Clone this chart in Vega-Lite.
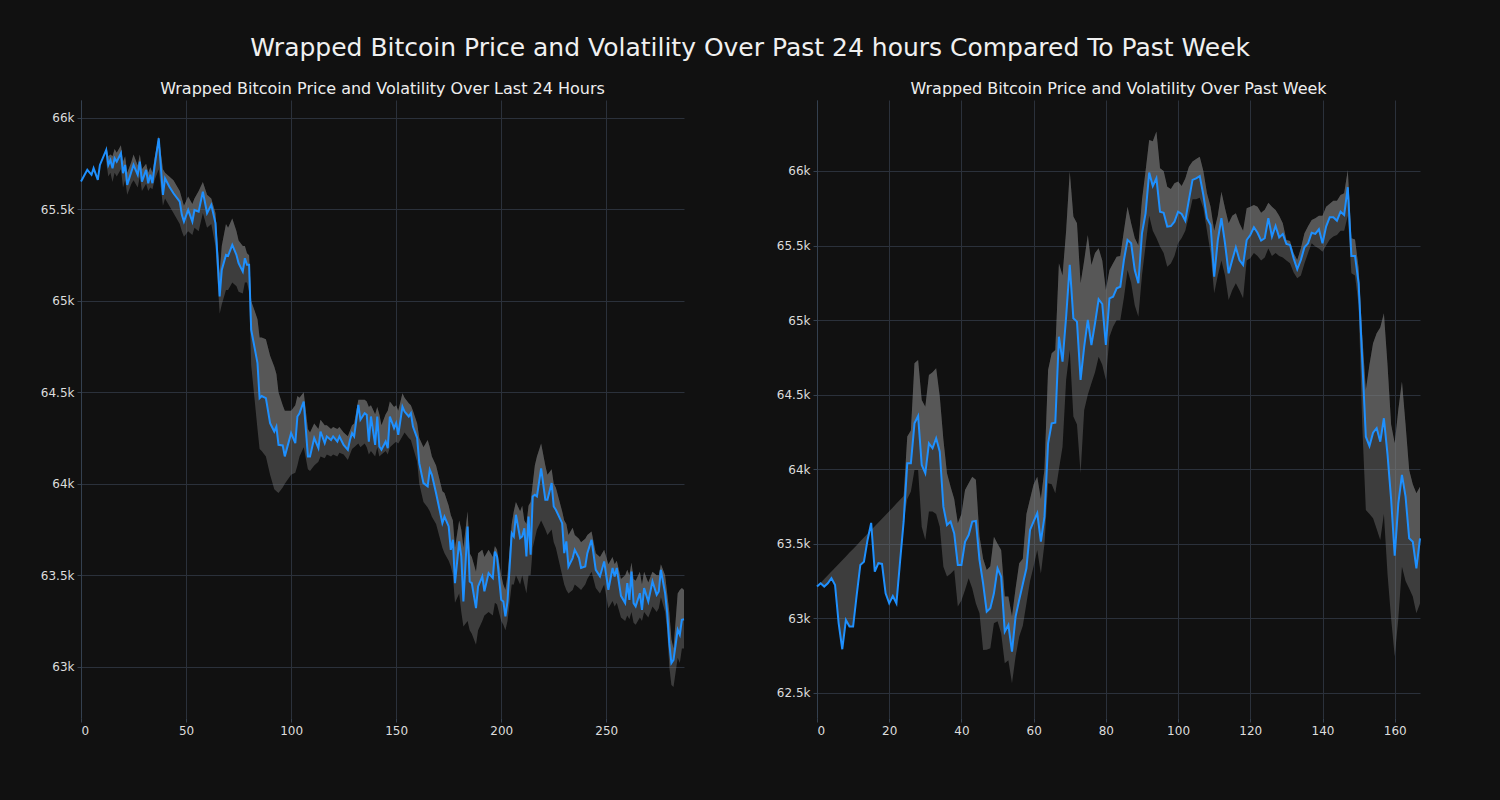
{
"$schema": "https://vega.github.io/schema/vega-lite/v6.json",
"background": "#111111",
"padding": {"left": 40, "top": 36, "right": 80, "bottom": 64},
"title": {"text": "Wrapped Bitcoin Price and Volatility Over Past 24 hours Compared To Past Week", "fontSize": 25, "color": "#f0f0f0", "anchor": "middle", "offset": 20, "dx": 18},
"config": {
 "font": "DejaVu Sans",
 "view": {"stroke": null},
 "title": {"color": "#eeeeee", "fontSize": 16, "fontWeight": "normal", "font": "DejaVu Sans", "offset": 3},
 "axis": {"gridColor": "#2b313b", "gridWidth": 1, "domainColor": "#34404f", "tickColor": "#34404f", "labelColor": "#dddddd", "labelFontSize": 12, "labelFont": "DejaVu Sans", "tickSize": 4, "labelPadding": 3, "title": null},
 "axisX": {"domain": false}
},
"spacing": 88,
"datasets": {
"d24": [
{"x":0,"p":65652},{"x":3,"p":65716},{"x":5,"p":65689},{"x":6,"p":65725},{"x":8,"p":65661},{"x":9,"p":65743},
{"x":12,"p":65825,"lo":65760,"hi":65850},{"x":13,"p":65743,"lo":65680,"hi":65790},{"x":14,"p":65770,"lo":65700,"hi":65800},{"x":15,"p":65725,"lo":65650,"hi":65790},{"x":16,"p":65780,"lo":65700,"hi":65830},{"x":17,"p":65761,"lo":65680,"hi":65810},{"x":19,"p":65807,"lo":65720,"hi":65850},{"x":20,"p":65698,"lo":65620,"hi":65760},{"x":21,"p":65743,"lo":65660,"hi":65790},{"x":22,"p":65634,"lo":65580,"hi":65700},{"x":24,"p":65707,"lo":65640,"hi":65760},{"x":25,"p":65743,"lo":65660,"hi":65800},{"x":27,"p":65689,"lo":65620,"hi":65740},{"x":28,"p":65761,"lo":65680,"hi":65800},{"x":29,"p":65652,"lo":65600,"hi":65720},{"x":31,"p":65716,"lo":65640,"hi":65750},{"x":32,"p":65643,"lo":65600,"hi":65700},{"x":33,"p":65689,"lo":65620,"hi":65730},{"x":34,"p":65643,"lo":65610,"hi":65700},{"x":35,"p":65734,"lo":65660,"hi":65780},{"x":37,"p":65889,"lo":65720,"hi":65900},{"x":39,"p":65579,"lo":65520,"hi":65720},{"x":40,"p":65670,"lo":65560,"hi":65700},{"x":42,"p":65625,"lo":65520,"hi":65680},{"x":44,"p":65588,"lo":65480,"hi":65660},{"x":47,"p":65543,"lo":65420,"hi":65600},{"x":48,"p":65470,"lo":65380,"hi":65560},{"x":49,"p":65433,"lo":65350,"hi":65520},{"x":51,"p":65497,"lo":65380,"hi":65570},{"x":53,"p":65433,"lo":65360,"hi":65530},{"x":54,"p":65497,"lo":65400,"hi":65560},{"x":56,"p":65488,"lo":65380,"hi":65600},{"x":58,"p":65597,"lo":65480,"hi":65650},{"x":60,"p":65479,"lo":65400,"hi":65580},{"x":62,"p":65525,"lo":65420,"hi":65560},{"x":64,"p":65425,"lo":65300,"hi":65480},{"x":66,"p":65024,"lo":64930,"hi":65150},{"x":67,"p":65169,"lo":64980,"hi":65300},{"x":69,"p":65251,"lo":65060,"hi":65420},{"x":70,"p":65246,"lo":65060,"hi":65400},{"x":72,"p":65306,"lo":65100,"hi":65450},{"x":74,"p":65251,"lo":65080,"hi":65380},{"x":75,"p":65206,"lo":65050,"hi":65330},{"x":77,"p":65160,"lo":65040,"hi":65300},{"x":78,"p":65233,"lo":65100,"hi":65300},{"x":79,"p":65197,"lo":65100,"hi":65260},{"x":80,"p":65197,"lo":65050,"hi":65250},{"x":81,"p":64842,"lo":64650,"hi":65000},{"x":84,"p":64660,"lo":64300,"hi":64900},{"x":85,"p":64468,"lo":64190,"hi":64800},{"x":86,"p":64480,"lo":64180,"hi":64800},{"x":88,"p":64468,"lo":64150,"hi":64790},{"x":90,"p":64332,"lo":64050,"hi":64700},{"x":92,"p":64286,"lo":63970,"hi":64640},{"x":93,"p":64313,"lo":63960,"hi":64600},{"x":94,"p":64213,"lo":63950,"hi":64500},{"x":96,"p":64210,"lo":63980,"hi":64430},{"x":97,"p":64150,"lo":64000,"hi":64400},{"x":100,"p":64277,"lo":64050,"hi":64400},{"x":102,"p":64222,"lo":64060,"hi":64430},{"x":103,"p":64368,"lo":64100,"hi":64480},{"x":104,"p":64386,"lo":64150,"hi":64470},{"x":106,"p":64450,"lo":64200,"hi":64500},{"x":108,"p":64150,"lo":64080,"hi":64300},{"x":109,"p":64150,"lo":64070,"hi":64280},{"x":111,"p":64250,"lo":64100,"hi":64330},{"x":113,"p":64195,"lo":64120,"hi":64300},{"x":114,"p":64286,"lo":64150,"hi":64350},{"x":116,"p":64222,"lo":64140,"hi":64320},{"x":117,"p":64259,"lo":64160,"hi":64320},{"x":119,"p":64240,"lo":64150,"hi":64300},{"x":120,"p":64259,"lo":64160,"hi":64310},{"x":122,"p":64231,"lo":64150,"hi":64300},{"x":123,"p":64259,"lo":64170,"hi":64310},{"x":125,"p":64213,"lo":64160,"hi":64280},{"x":127,"p":64186,"lo":64130,"hi":64260},{"x":128,"p":64240,"lo":64160,"hi":64290},{"x":129,"p":64277,"lo":64190,"hi":64320},{"x":130,"p":64259,"lo":64200,"hi":64330},{"x":132,"p":64432,"lo":64220,"hi":64460},{"x":133,"p":64350,"lo":64200,"hi":64460},{"x":135,"p":64386,"lo":64220,"hi":64460},{"x":136,"p":64377,"lo":64200,"hi":64450},{"x":137,"p":64231,"lo":64160,"hi":64420},{"x":138,"p":64368,"lo":64180,"hi":64430},{"x":140,"p":64213,"lo":64150,"hi":64380},{"x":141,"p":64368,"lo":64200,"hi":64420},{"x":142,"p":64204,"lo":64150,"hi":64380},{"x":143,"p":64186,"lo":64160,"hi":64320},{"x":145,"p":64231,"lo":64180,"hi":64380},{"x":146,"p":64195,"lo":64160,"hi":64400},{"x":147,"p":64368,"lo":64200,"hi":64450},{"x":149,"p":64304,"lo":64220,"hi":64420},{"x":150,"p":64332,"lo":64230,"hi":64430},{"x":151,"p":64268,"lo":64220,"hi":64400},{"x":153,"p":64422,"lo":64260,"hi":64495},{"x":154,"p":64395,"lo":64280,"hi":64470},{"x":156,"p":64368,"lo":64250,"hi":64440},{"x":157,"p":64386,"lo":64240,"hi":64430},{"x":158,"p":64313,"lo":64200,"hi":64400},{"x":160,"p":64250,"lo":64120,"hi":64330},{"x":161,"p":64113,"lo":64000,"hi":64250},{"x":163,"p":64004,"lo":63900,"hi":64200},{"x":165,"p":63986,"lo":63870,"hi":64240},{"x":166,"p":64077,"lo":63850,"hi":64200},{"x":167,"p":64049,"lo":63820,"hi":64150},{"x":169,"p":63949,"lo":63780,"hi":64100},{"x":172,"p":63785,"lo":63650,"hi":63960},{"x":173,"p":63821,"lo":63620,"hi":63950},{"x":175,"p":63767,"lo":63580,"hi":63880},{"x":176,"p":63639,"lo":63550,"hi":63830},{"x":177,"p":63694,"lo":63500,"hi":63800},{"x":178,"p":63457,"lo":63350,"hi":63650},{"x":180,"p":63685,"lo":63400,"hi":63800},{"x":181,"p":63603,"lo":63300,"hi":63750},{"x":182,"p":63357,"lo":63220,"hi":63650},{"x":184,"p":63767,"lo":63250,"hi":63850},{"x":185,"p":63466,"lo":63200,"hi":63620},{"x":186,"p":63457,"lo":63180,"hi":63600},{"x":188,"p":63321,"lo":63120,"hi":63520},{"x":189,"p":63439,"lo":63200,"hi":63620},{"x":191,"p":63494,"lo":63250,"hi":63640},{"x":192,"p":63412,"lo":63280,"hi":63600},{"x":194,"p":63512,"lo":63300,"hi":63640},{"x":196,"p":63485,"lo":63280,"hi":63600},{"x":197,"p":63630,"lo":63350,"hi":63660},{"x":198,"p":63603,"lo":63340,"hi":63640},{"x":200,"p":63366,"lo":63250,"hi":63500},{"x":201,"p":63357,"lo":63230,"hi":63450},{"x":202,"p":63275,"lo":63200,"hi":63420},{"x":203,"p":63357,"lo":63250,"hi":63500},{"x":205,"p":63730,"lo":63450,"hi":63780},{"x":206,"p":63712,"lo":63450,"hi":63850},{"x":207,"p":63831,"lo":63500,"hi":63900},{"x":209,"p":63703,"lo":63450,"hi":63850},{"x":210,"p":63712,"lo":63500,"hi":63880},{"x":211,"p":63757,"lo":63450,"hi":63800},{"x":212,"p":63603,"lo":63400,"hi":63780},{"x":213,"p":63821,"lo":63500,"hi":63880},{"x":214,"p":63612,"lo":63500,"hi":63900},{"x":215,"p":63931,"lo":63650,"hi":64000},{"x":216,"p":63940,"lo":63700,"hi":64100},{"x":217,"p":63931,"lo":63750,"hi":64150},{"x":219,"p":64085,"lo":63800,"hi":64220},{"x":221,"p":63913,"lo":63750,"hi":64100},{"x":222,"p":63913,"lo":63720,"hi":64050},{"x":224,"p":64004,"lo":63750,"hi":64080},{"x":225,"p":63876,"lo":63680,"hi":64000},{"x":226,"p":63858,"lo":63650,"hi":63980},{"x":229,"p":63785,"lo":63500,"hi":63850},{"x":230,"p":63621,"lo":63450,"hi":63800},{"x":231,"p":63685,"lo":63420,"hi":63780},{"x":232,"p":63548,"lo":63400,"hi":63720},{"x":234,"p":63594,"lo":63420,"hi":63760},{"x":235,"p":63639,"lo":63450,"hi":63720},{"x":237,"p":63595,"lo":63430,"hi":63700},{"x":238,"p":63540,"lo":63420,"hi":63680},{"x":240,"p":63548,"lo":63450,"hi":63700},{"x":241,"p":63621,"lo":63480,"hi":63720},{"x":243,"p":63694,"lo":63520,"hi":63740},{"x":245,"p":63530,"lo":63430,"hi":63620},{"x":247,"p":63494,"lo":63400,"hi":63600},{"x":249,"p":63576,"lo":63450,"hi":63640},{"x":251,"p":63421,"lo":63320,"hi":63560},{"x":253,"p":63540,"lo":63360,"hi":63600},{"x":254,"p":63494,"lo":63330,"hi":63560},{"x":255,"p":63540,"lo":63350,"hi":63580},{"x":257,"p":63388,"lo":63270,"hi":63480},{"x":259,"p":63348,"lo":63250,"hi":63500},{"x":260,"p":63457,"lo":63280,"hi":63530},{"x":261,"p":63366,"lo":63260,"hi":63500},{"x":262,"p":63521,"lo":63300,"hi":63570},{"x":263,"p":63348,"lo":63240,"hi":63480},{"x":264,"p":63330,"lo":63230,"hi":63470},{"x":266,"p":63402,"lo":63270,"hi":63520},{"x":267,"p":63311,"lo":63250,"hi":63450},{"x":268,"p":63430,"lo":63300,"hi":63520},{"x":270,"p":63357,"lo":63270,"hi":63460},{"x":272,"p":63466,"lo":63330,"hi":63520},{"x":274,"p":63393,"lo":63300,"hi":63500},{"x":275,"p":63412,"lo":63320,"hi":63500},{"x":276,"p":63530,"lo":63380,"hi":63560},{"x":278,"p":63402,"lo":63300,"hi":63500},{"x":279,"p":63293,"lo":63200,"hi":63400},{"x":280,"p":63129,"lo":63000,"hi":63300},{"x":281,"p":63020,"lo":62900,"hi":63150},{"x":282,"p":63038,"lo":62890,"hi":63100},{"x":284,"p":63202,"lo":63050,"hi":63400},{"x":285,"p":63175,"lo":63020,"hi":63420},{"x":286,"p":63257,"lo":63100,"hi":63430},{"x":287,"p":63260,"lo":63100,"hi":63420}
],
"dwk": [
{"x":0,"p":63213,"lo":63213,"hi":63213},{"x":1,"p":63235,"lo":63235,"hi":63238},{"x":2,"p":63213,"lo":63213,"hi":63264},{"x":3,"p":63235,"lo":63235,"hi":63289},{"x":4,"p":63269,"lo":63269,"hi":63314},{"x":5,"p":63224,"lo":63224,"hi":63340},{"x":6,"p":62967,"lo":62967,"hi":63365},{"x":7,"p":62793,"lo":62793,"hi":63390},{"x":8,"p":62989,"lo":62989,"hi":63415},{"x":9,"p":62945,"lo":62945,"hi":63441},{"x":10,"p":62945,"lo":62945,"hi":63466},{"x":11,"p":63157,"lo":63157,"hi":63491},{"x":12,"p":63358,"lo":63358,"hi":63517},{"x":13,"p":63380,"lo":63380,"hi":63542},{"x":14,"p":63526,"lo":63526,"hi":63567},{"x":15,"p":63640,"lo":63640,"hi":63593},{"x":16,"p":63313,"lo":63313,"hi":63618},{"x":17,"p":63370,"lo":63370,"hi":63643},{"x":18,"p":63365,"lo":63365,"hi":63668},{"x":19,"p":63168,"lo":63168,"hi":63694},{"x":20,"p":63101,"lo":63101,"hi":63719},{"x":21,"p":63150,"lo":63150,"hi":63744},{"x":22,"p":63101,"lo":63101,"hi":63770},{"x":23,"p":63380,"lo":63380,"hi":63795},{"x":24,"p":63650,"lo":63650,"hi":63820},
{"x":25,"p":64040,"lo":63800,"hi":64220},{"x":26,"p":64040,"lo":63850,"hi":64260},{"x":27,"p":64308,"lo":63995,"hi":64711},{"x":28,"p":64357,"lo":63995,"hi":64733},{"x":29,"p":64029,"lo":63615,"hi":64464},{"x":30,"p":63973,"lo":63526,"hi":64419},{"x":31,"p":64174,"lo":63716,"hi":64632},{"x":32,"p":64141,"lo":63716,"hi":64650},{"x":33,"p":64208,"lo":63700,"hi":64677},{"x":34,"p":64118,"lo":63615,"hi":64487},{"x":35,"p":63749,"lo":63347,"hi":64200},{"x":36,"p":63626,"lo":63280,"hi":63973},{"x":37,"p":63649,"lo":63300,"hi":63883},{"x":38,"p":63570,"lo":63325,"hi":63800},{"x":39,"p":63358,"lo":63079,"hi":63638},{"x":40,"p":63358,"lo":63120,"hi":63700},{"x":41,"p":63514,"lo":63190,"hi":63861},{"x":42,"p":63559,"lo":63269,"hi":63906},{"x":43,"p":63649,"lo":63200,"hi":63950},{"x":44,"p":63653,"lo":63100,"hi":63930},{"x":45,"p":63392,"lo":63034,"hi":63550},{"x":46,"p":63235,"lo":62788,"hi":63400},{"x":47,"p":63045,"lo":62790,"hi":63325},{"x":48,"p":63068,"lo":62800,"hi":63350},{"x":49,"p":63168,"lo":62967,"hi":63548},{"x":50,"p":63336,"lo":62980,"hi":63500},{"x":51,"p":63280,"lo":62900,"hi":63459},{"x":52,"p":62911,"lo":62699,"hi":63146},{"x":53,"p":62956,"lo":62720,"hi":63146},{"x":54,"p":62777,"lo":62565,"hi":63012},{"x":55,"p":63012,"lo":62744,"hi":63200},{"x":56,"p":63124,"lo":62878,"hi":63370},{"x":57,"p":63230,"lo":62950,"hi":63400},{"x":58,"p":63336,"lo":63100,"hi":63700},{"x":59,"p":63593,"lo":63250,"hi":63800},{"x":60,"p":63650,"lo":63350,"hi":63900},{"x":61,"p":63705,"lo":63459,"hi":63950},{"x":62,"p":63514,"lo":63300,"hi":63800},{"x":63,"p":63682,"lo":63500,"hi":64000},{"x":64,"p":64174,"lo":63906,"hi":64666},{"x":65,"p":64308,"lo":63900,"hi":64778},{"x":66,"p":64312,"lo":63839,"hi":64800},{"x":67,"p":64889,"lo":64000,"hi":65381},{"x":68,"p":64721,"lo":64151,"hi":65300},{"x":69,"p":65023,"lo":64600,"hi":65600},{"x":70,"p":65370,"lo":64800,"hi":65996},{"x":71,"p":65012,"lo":64353,"hi":65694},{"x":72,"p":64990,"lo":64300,"hi":65649},{"x":73,"p":64599,"lo":63973,"hi":65247},{"x":74,"p":64822,"lo":64397,"hi":65400},{"x":75,"p":65001,"lo":64500,"hi":65571},{"x":76,"p":64833,"lo":64576,"hi":65370},{"x":77,"p":64979,"lo":64650,"hi":65450},{"x":78,"p":65140,"lo":64755,"hi":65482},{"x":79,"p":65108,"lo":64700,"hi":65400},{"x":80,"p":64833,"lo":64599,"hi":65202},{"x":81,"p":65146,"lo":64889,"hi":65336},{"x":82,"p":65157,"lo":64956,"hi":65381},{"x":83,"p":65213,"lo":65001,"hi":65425},{"x":84,"p":65224,"lo":65000,"hi":65430},{"x":85,"p":65403,"lo":65150,"hi":65600},{"x":86,"p":65537,"lo":65336,"hi":65761},{"x":87,"p":65515,"lo":65250,"hi":65650},{"x":88,"p":65336,"lo":65100,"hi":65550},{"x":89,"p":65247,"lo":65023,"hi":65500},{"x":90,"p":65582,"lo":65300,"hi":65806},{"x":91,"p":65716,"lo":65500,"hi":66000},{"x":92,"p":65989,"lo":65700,"hi":66208},{"x":93,"p":65899,"lo":65600,"hi":66200},{"x":94,"p":65951,"lo":65550,"hi":66264},{"x":95,"p":65727,"lo":65493,"hi":66018},{"x":96,"p":65720,"lo":65450,"hi":66000},{"x":97,"p":65627,"lo":65358,"hi":65895},{"x":98,"p":65631,"lo":65380,"hi":65880},{"x":99,"p":65660,"lo":65430,"hi":65918},{"x":100,"p":65727,"lo":65515,"hi":65930},{"x":101,"p":65712,"lo":65550,"hi":65900},{"x":102,"p":65667,"lo":65600,"hi":65950},{"x":103,"p":65806,"lo":65700,"hi":66029},{"x":104,"p":65940,"lo":65810,"hi":66063},{"x":105,"p":65951,"lo":65810,"hi":66080},{"x":106,"p":65966,"lo":65820,"hi":66096},{"x":107,"p":65839,"lo":65750,"hi":66000},{"x":108,"p":65683,"lo":65600,"hi":65850},{"x":109,"p":65638,"lo":65450,"hi":65761},{"x":110,"p":65291,"lo":65180,"hi":65600},{"x":111,"p":65537,"lo":65300,"hi":65700},{"x":112,"p":65683,"lo":65400,"hi":65861},{"x":113,"p":65515,"lo":65300,"hi":65750},{"x":114,"p":65314,"lo":65135,"hi":65650},{"x":115,"p":65403,"lo":65200,"hi":65700},{"x":116,"p":65488,"lo":65247,"hi":65716},{"x":117,"p":65403,"lo":65200,"hi":65650},{"x":118,"p":65370,"lo":65146,"hi":65600},{"x":119,"p":65537,"lo":65400,"hi":65750},{"x":120,"p":65571,"lo":65415,"hi":65760},{"x":121,"p":65623,"lo":65450,"hi":65772},{"x":122,"p":65586,"lo":65430,"hi":65760},{"x":123,"p":65533,"lo":65400,"hi":65720},{"x":124,"p":65549,"lo":65420,"hi":65740},{"x":125,"p":65683,"lo":65480,"hi":65787},{"x":126,"p":65560,"lo":65430,"hi":65760},{"x":127,"p":65631,"lo":65450,"hi":65738},{"x":128,"p":65555,"lo":65430,"hi":65700},{"x":129,"p":65578,"lo":65420,"hi":65650},{"x":130,"p":65511,"lo":65400,"hi":65537},{"x":131,"p":65504,"lo":65381,"hi":65530},{"x":132,"p":65415,"lo":65320,"hi":65450},{"x":133,"p":65341,"lo":65280,"hi":65403},{"x":134,"p":65403,"lo":65300,"hi":65480},{"x":135,"p":65488,"lo":65380,"hi":65582},{"x":136,"p":65515,"lo":65450,"hi":65630},{"x":137,"p":65586,"lo":65515,"hi":65671},{"x":138,"p":65578,"lo":65493,"hi":65683},{"x":139,"p":65609,"lo":65480,"hi":65700},{"x":140,"p":65515,"lo":65459,"hi":65700},{"x":141,"p":65627,"lo":65500,"hi":65761},{"x":142,"p":65690,"lo":65540,"hi":65780},{"x":143,"p":65690,"lo":65560,"hi":65800},{"x":144,"p":65667,"lo":65571,"hi":65800},{"x":145,"p":65727,"lo":65600,"hi":65839},{"x":146,"p":65705,"lo":65600,"hi":65850},{"x":147,"p":65891,"lo":65700,"hi":66007},{"x":148,"p":65430,"lo":65314,"hi":65549},{"x":149,"p":65430,"lo":65300,"hi":65540},{"x":150,"p":65247,"lo":65100,"hi":65350},{"x":151,"p":64733,"lo":64300,"hi":64900},{"x":152,"p":64218,"lo":63727,"hi":64532},{"x":153,"p":64156,"lo":63700,"hi":64700},{"x":154,"p":64245,"lo":63671,"hi":64845},{"x":155,"p":64275,"lo":63600,"hi":64912},{"x":156,"p":64185,"lo":63526,"hi":64950},{"x":157,"p":64342,"lo":63700,"hi":65046},{"x":158,"p":64100,"lo":63300,"hi":64700},{"x":159,"p":63800,"lo":63000,"hi":64300},{"x":160,"p":63420,"lo":62744,"hi":64174},{"x":161,"p":63772,"lo":63000,"hi":64400},{"x":162,"p":63962,"lo":63347,"hi":64588},{"x":163,"p":63816,"lo":63250,"hi":64300},{"x":164,"p":63537,"lo":63200,"hi":63995},{"x":165,"p":63514,"lo":63146,"hi":63900},{"x":166,"p":63336,"lo":63034,"hi":63839},{"x":167,"p":63537,"lo":63100,"hi":63883}
]
},
"hconcat": [
{
 "width": 603, "height": 618,
 "title": {"text": "Wrapped Bitcoin Price and Volatility Over Last 24 Hours"},
 "data": {"name": "d24"},
 "encoding": {"x": {"field": "x", "type": "quantitative", "scale": {"domain": [0, 287], "nice": false, "zero": false}, "axis": {"values": [0, 50, 100, 150, 200, 250]}}},
 "layer": [
  {"transform": [{"filter": "isValid(datum.hi)"}], "mark": {"type": "area", "color": "#808080", "opacity": 0.4}, "encoding": {"y": {"field": "lo", "type": "quantitative", "scale": {"domain": [62720, 66098], "nice": false, "zero": false}, "axis": {"values": [63000, 63500, 64000, 64500, 65000, 65500, 66000], "labelExpr": "datum.value / 1000 + 'k'"}}, "y2": {"field": "hi"}}},
  {"transform": [{"filter": "isValid(datum.hi)"}], "mark": {"type": "area", "color": "#808080", "opacity": 0.4}, "encoding": {"y": {"field": "p", "type": "quantitative", "scale": {"domain": [62720, 66098], "nice": false, "zero": false}}, "y2": {"field": "hi"}}},
  {"mark": {"type": "line", "color": "#1e90ff", "strokeWidth": 2}, "encoding": {"y": {"field": "p", "type": "quantitative", "scale": {"domain": [62720, 66098], "nice": false, "zero": false}}}}
 ]
},
{
 "width": 603, "height": 618,
 "title": {"text": "Wrapped Bitcoin Price and Volatility Over Past Week"},
 "data": {"name": "dwk"},
 "encoding": {"x": {"field": "x", "type": "quantitative", "scale": {"domain": [0, 167], "nice": false, "zero": false}, "axis": {"values": [0, 20, 40, 60, 80, 100, 120, 140, 160]}}},
 "layer": [
  {"mark": {"type": "area", "color": "#808080", "opacity": 0.4}, "encoding": {"y": {"field": "lo", "type": "quantitative", "scale": {"domain": [62332, 66476], "nice": false, "zero": false}, "axis": {"values": [62500, 63000, 63500, 64000, 64500, 65000, 65500, 66000], "labelExpr": "datum.value / 1000 + 'k'"}}, "y2": {"field": "hi"}}},
  {"transform": [{"filter": "datum.x >= 24"}], "mark": {"type": "area", "color": "#808080", "opacity": 0.4}, "encoding": {"y": {"field": "p", "type": "quantitative", "scale": {"domain": [62332, 66476], "nice": false, "zero": false}}, "y2": {"field": "hi"}}},
  {"mark": {"type": "line", "color": "#1e90ff", "strokeWidth": 2}, "encoding": {"y": {"field": "p", "type": "quantitative", "scale": {"domain": [62332, 66476], "nice": false, "zero": false}}}}
 ]
}
]
}
